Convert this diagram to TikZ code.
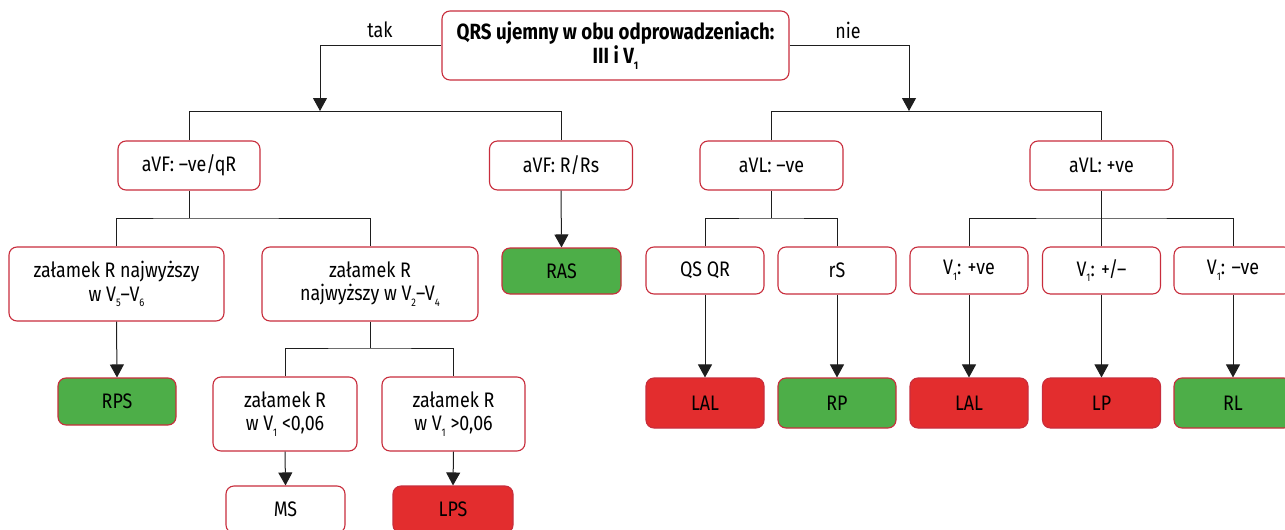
\documentclass[tikz,border=0pt]{standalone}
\usepackage{fontspec}
\setmainfont{Fira Sans}[FakeStretch=0.85]
\usetikzlibrary{arrows.meta}
\definecolor{frame}{RGB}{200,45,60}
\definecolor{okgreen}{RGB}{77,174,72}
\definecolor{badred}{RGB}{227,45,46}
\definecolor{wire}{RGB}{30,30,30}
% lowered small index, as in V_1
\newcommand\ix[1]{\raisebox{-0.5ex}{\fontsize{11}{11}\selectfont #1}}
\begin{document}
\begin{tikzpicture}[x=1pt,y=-1pt,
  box/.style={draw=frame, line width=1.1pt, rounded corners=8pt, fill=white,
    align=center, inner sep=0pt, font=\fontsize{21}{23.5}\selectfont},
  good/.style={box, fill=okgreen},
  bad/.style={box, fill=badred},
  link/.style={draw=wire, line width=1pt},
  arr/.style={link, -{Triangle[length=13pt,width=14pt]}},
  lbl/.style={font=\fontsize{21}{23.5}\selectfont, inner sep=0pt}]
\useasboundingbox (0,0) rectangle (1285,530);

% root question
\node[box, minimum width=347pt, minimum height=69pt,
  font=\fontsize{22}{23.5}\selectfont\bfseries] (root) at (615.5,45.5)
  {QRS ujemny w obu odprowadzeniach:\\III i V\ix{1}};
\node[lbl] (yes) at (380,30) {tak};
\node[lbl] (no) at (848,30) {nie};
\coordinate (tipL) at (320,111);
\coordinate (tipR) at (909,111);

% second level
\node[box, minimum width=142pt, minimum height=49pt] (avfA) at (189,165.5) {aVF: –ve/qR};
\node[box, minimum width=143pt, minimum height=49pt] (avfB) at (561,165.5) {aVF: R/Rs};
\node[box, minimum width=143pt, minimum height=49pt] (avlA) at (771.5,165.5) {aVL: –ve};
\node[box, minimum width=143pt, minimum height=49pt] (avlB) at (1101.5,165.5) {aVL: +ve};

% third level
\node[box, minimum width=215pt, minimum height=74pt] (zalA) at (116.5,284)
  {załamek R najwyższy\\w V\ix{5}–V\ix{6}};
\node[box, minimum width=216pt, minimum height=74pt] (zalB) at (370,284)
  {załamek R\\najwyższy w V\ix{2}–V\ix{4}};
\node[good, minimum width=119pt, minimum height=46pt] (ras) at (561.5,271) {RAS};
\node[box, minimum width=118pt, minimum height=47pt] (qs) at (705,270.5) {QS QR};
\node[box, minimum width=118pt, minimum height=47pt] (rs) at (837,270.5) {rS};
\node[box, minimum width=118pt, minimum height=47pt] (vpos) at (969,270.5) {V\ix{1}: +ve};
\node[box, minimum width=118pt, minimum height=47pt] (vmix) at (1101.5,270.5) {V\ix{1}: +/–};
\node[box, minimum width=118pt, minimum height=47pt] (vneg) at (1233,270.5) {V\ix{1}: –ve};

% fourth level
\node[good, minimum width=118pt, minimum height=47pt] (rps) at (117,401.5) {RPS};
\node[box, minimum width=144pt, minimum height=74pt] (zalC) at (285,414)
  {załamek R\\w V\ix{1} <0,06};
\node[box, minimum width=143pt, minimum height=74pt] (zalD) at (453.5,414)
  {załamek R\\w V\ix{1} >0,06};
\node[bad, minimum width=118pt, minimum height=50pt] (lalA) at (705,403) {LAL};
\node[good, minimum width=118pt, minimum height=50pt] (rp) at (837,403) {RP};
\node[bad, minimum width=118pt, minimum height=50pt] (lalB) at (969,403) {LAL};
\node[bad, minimum width=118pt, minimum height=50pt] (lp) at (1101.5,403) {LP};
\node[good, minimum width=118pt, minimum height=50pt] (rl) at (1233,403) {RL};

% fifth level
\node[box, minimum width=119pt, minimum height=47pt] (ms) at (285.5,509.5) {MS};
\node[bad, minimum width=120pt, minimum height=47pt] (lps) at (453,509.5) {LPS};

% bus junctions
\coordinate (busA) at (189,218);
\coordinate (busL) at (771.5,218);
\coordinate (busR) at (1101.5,218);
\coordinate (busB) at (370,348);

% root branches
\draw[arr] (root.west) -| (tipL);
\draw[arr] (root.east) -| (tipR);
\path[link] (avfA.north) -- ++(0,-29) -| (avfB.north);
\path[link] (avlA.north) -- ++(0,-29) -| (avlB.north);

% splits without arrows
\draw[link] (avfA.south) -- (busA);
\draw[link] (zalA.north) |- (busA) -| (zalB.north);
\draw[link] (avlA.south) -- (busL);
\draw[link] (qs.north) |- (busL) -| (rs.north);
\draw[link] (avlB.south) -- (vmix.north);
\draw[link] (vpos.north) |- (busR) -| (vneg.north);
\draw[link] (zalB.south) -- (busB);
\draw[link] (zalC.north) |- (busB) -| (zalD.north);

% outcome arrows
\draw[arr] (zalA.south) -- (rps.north);
\draw[arr] (avfB.south) -- (ras.north);
\draw[arr] (qs.south) -- (lalA.north);
\draw[arr] (rs.south) -- (rp.north);
\draw[arr] (vpos.south) -- (lalB.north);
\draw[arr] (vmix.south) -- (lp.north);
\draw[arr] (vneg.south) -- (rl.north);
\draw[arr] (zalC.south) -- (ms.north);
\draw[arr] (zalD.south) -- (lps.north);
\end{tikzpicture}
\end{document}
